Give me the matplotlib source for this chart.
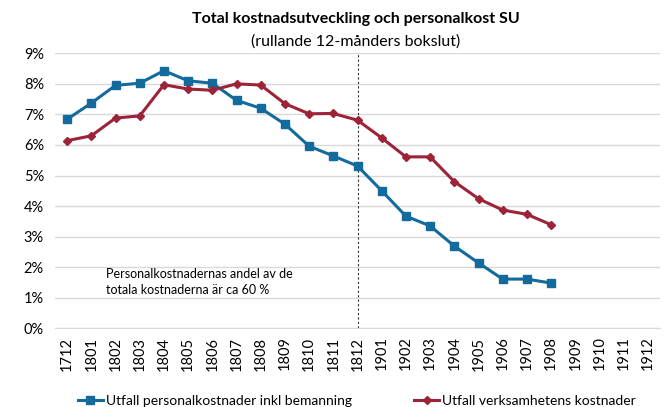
import numpy as np
import matplotlib.pyplot as plt
from matplotlib.ticker import PercentFormatter

plt.rcParams['font.family'] = ['Lato', 'DejaVu Sans']

# data (percent)
months = ['1712', '1801', '1802', '1803', '1804', '1805', '1806', '1807', '1808',
          '1809', '1810', '1811', '1812', '1901', '1902', '1903', '1904', '1905',
          '1906', '1907', '1908', '1909', '1910', '1911', '1912']
personal = [6.84, 7.37, 7.95, 8.02, 8.43, 8.10, 8.02, 7.46, 7.20, 6.68, 5.96, 5.64,
            5.31, 4.50, 3.67, 3.35, 2.69, 2.14, 1.61, 1.61, 1.48]
verksamhet = [6.14, 6.30, 6.88, 6.95, 7.97, 7.83, 7.79, 8.00, 7.96, 7.35, 7.02, 7.03,
              6.81, 6.23, 5.61, 5.61, 4.80, 4.24, 3.87, 3.73, 3.39]
yticks = list(range(0, 10))

blue = '#136a9c'
red = '#9c2338'

fig = plt.figure(figsize=(6.67, 4.07), dpi=100)
ax = fig.add_axes([0.0825, 0.1934, 0.907, 0.6757])

x = np.arange(len(months))
ax.plot(x[:len(personal)], personal, color=blue, lw=2.2, marker='s', ms=5.5,
        label='Utfall personalkostnader inkl bemanning')
ax.plot(x[:len(verksamhet)], verksamhet, color=red, lw=2.2, marker='D', ms=4.3,
        label='Utfall verksamhetens kostnader')

ax.axvline(months.index('1812'), color='#333333', lw=0.8, ls=(0, (2, 2)), zorder=1)

ax.set_xlim(-0.5, len(months) - 0.5)
ax.set_ylim(0, 9)
ax.set_yticks(yticks)
ax.yaxis.set_major_formatter(PercentFormatter(decimals=0))
ax.set_xticks(x)
ax.set_xticklabels(months, rotation=90, fontsize=10.5)
ax.tick_params(axis='y', labelsize=10.5, length=0, pad=8)
ax.tick_params(axis='x', length=0, pad=6)
ax.grid(axis='y', color='#d9d9d9', lw=1)
ax.set_axisbelow(True)
for s in ['top', 'right', 'left']:
    ax.spines[s].set_visible(False)
ax.spines['bottom'].set_color('#d9d9d9')

fig.text(0.533, 0.953, 'Total kostnadsutveckling och personalkost SU', ha='center',
         va='center', fontsize=11.5, fontweight='bold')
fig.text(0.533, 0.898, '(rullande 12-månders bokslut)', ha='center', va='center', fontsize=11.5)

ax.text(1.6, 1.5, 'Personalkostnadernas andel av de\ntotala kostnaderna är ca 60 %',
        fontsize=9, va='center', linespacing=1.4)

fig.legend(loc='lower center', bbox_to_anchor=(0.535, -0.03), ncol=2, frameon=False,
           fontsize=10, columnspacing=4.5, handlelength=1.8, handletextpad=0.2)

fig.savefig('out.png', dpi=100)
